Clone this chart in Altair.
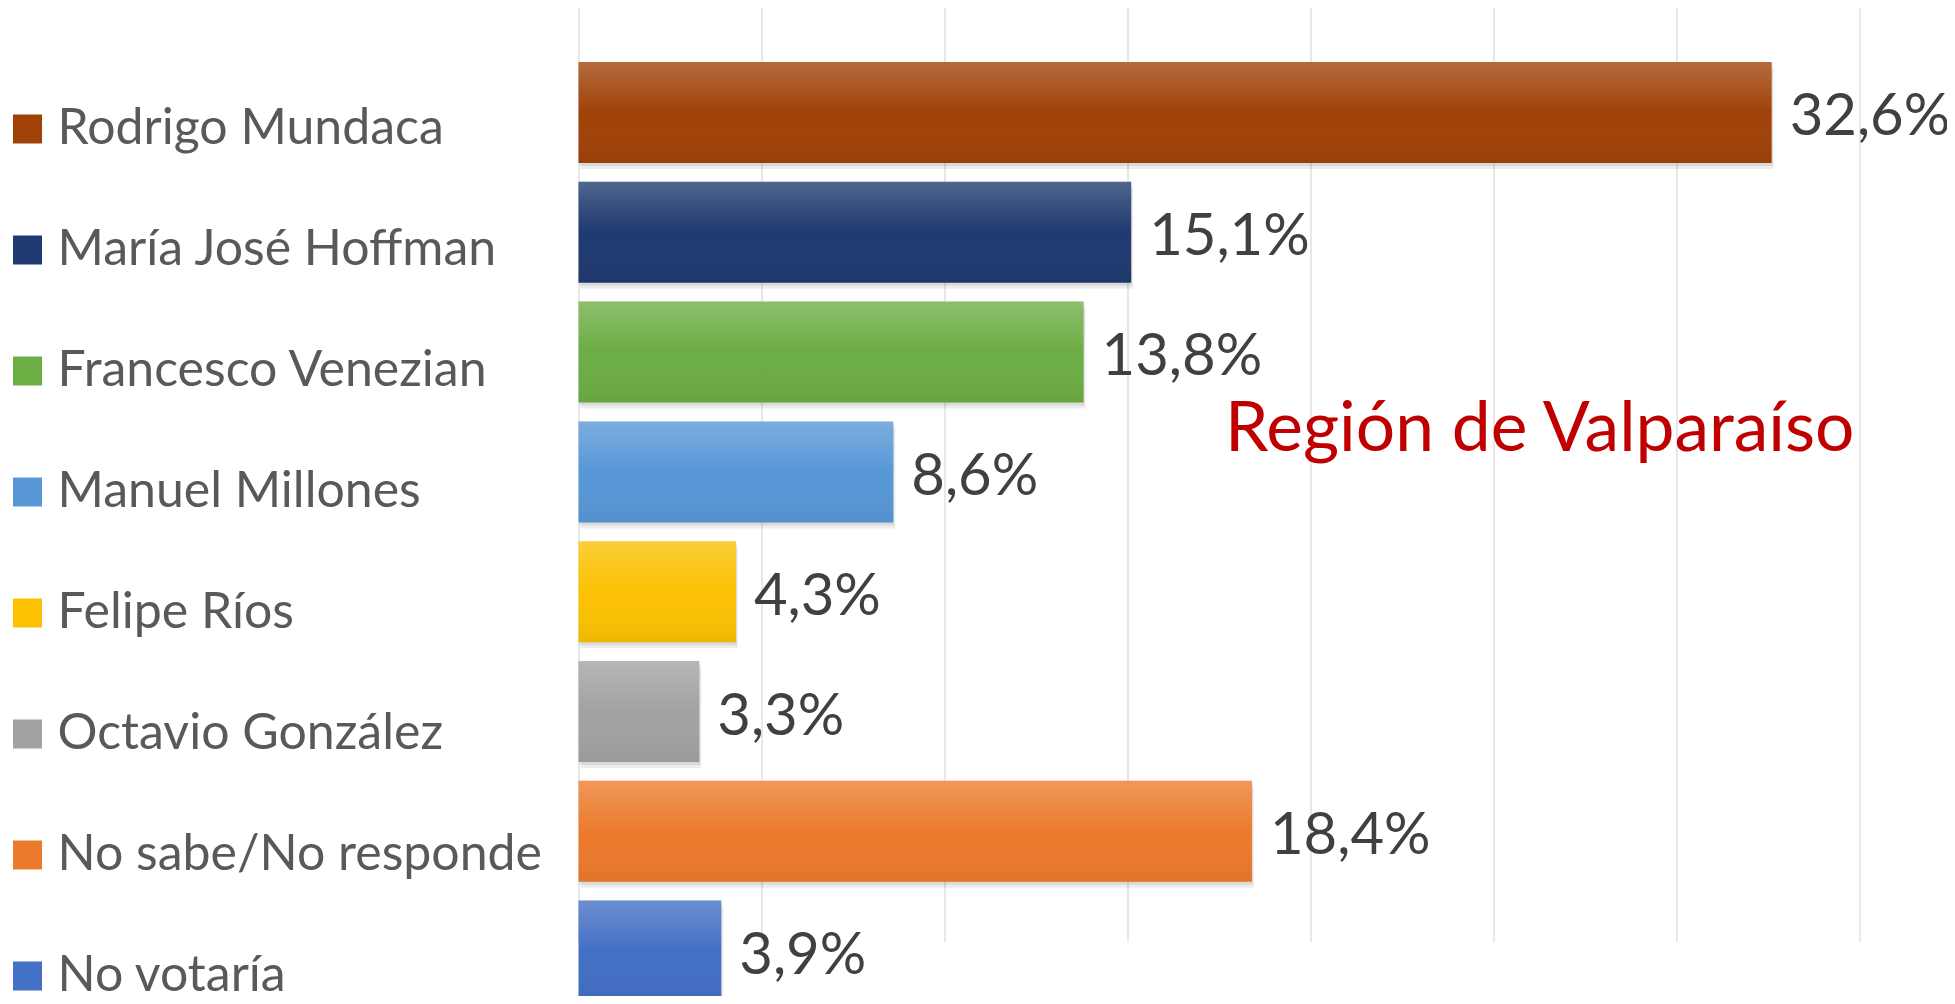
import altair as alt
import pandas as pd

names = ["Rodrigo Mundaca", "María José Hoffman", "Francesco Venezian", "Manuel Millones",
         "Felipe Ríos", "Octavio González", "No sabe/No responde", "No votaría"]
values = [32.6, 15.1, 13.8, 8.6, 4.3, 3.3, 18.4, 3.9]
colors = ["#A04208", "#1F3A70", "#6CAD44", "#5797D6", "#FBC102", "#A2A2A2", "#EC7A2C", "#436FC4"]
grid_values = [0, 5, 10, 15, 20, 25, 30, 35]
title_text = "Región de Valparaíso"

df = pd.DataFrame({"name": names, "value": values})
df["label"] = [f"{v:.1f}".replace(".", ",") + "%" for v in values]

FONT = "Lato"

y_enc = alt.Y("name:N", sort=names, axis=None,
              scale=alt.Scale(range=[54, 993.6], paddingInner=0.157, paddingOuter=0))
x_enc = alt.X("value:Q", title=None,
              scale=alt.Scale(domain=[0, 35], nice=False, zero=True),
              axis=alt.Axis(values=grid_values, labels=False, ticks=False, domain=False,
                            grid=True, gridColor="#D9D9D9", gridWidth=1.2))

base = alt.Chart(df).encode(y=y_enc, x=x_enc)

shadow1 = base.mark_bar(color="#000000", opacity=0.07, xOffset=2, yOffset=6)
shadow2 = base.mark_bar(color="#000000", opacity=0.08, xOffset=1, yOffset=3)

bars = base.mark_bar().encode(
    color=alt.Color("name:N", scale=alt.Scale(domain=names, range=colors),
                    legend=alt.Legend(title=None, orient="none", legendX=-576, legendY=96,
                                      symbolType="square", symbolSize=841, symbolStrokeWidth=0,
                                      labelFontSize=50, labelFont=FONT, labelColor="#595959",
                                      labelOffset=5, rowPadding=71, labelLimit=800, padding=0))
)

overlay = base.mark_bar(color={
    "gradient": "linear", "x1": 0, "y1": 0, "x2": 0, "y2": 1,
    "stops": [
        {"offset": 0, "color": "rgba(255,255,255,0.22)"},
        {"offset": 0.5, "color": "rgba(255,255,255,0)"},
        {"offset": 1, "color": "rgba(0,0,0,0.05)"},
    ],
})

labels = base.mark_text(align="left", baseline="middle", dx=18, dy=6, fontSize=58, font=FONT,
                        color="#404040").encode(text="label:N")

chart = alt.layer(shadow1, shadow2, bars, overlay, labels).properties(
    width=1281, height=988,
    title=alt.TitleParams(title_text, color="#C00000", fontSize=69.5, font=FONT,
                          fontWeight="normal", anchor="end", orient="top", frame="group",
                          baseline="alphabetic", offset=0, dx=-5, dy=512),
    autosize=alt.AutoSizeParams(type="none"),
    padding={"left": 570.5, "top": 0, "right": 87, "bottom": 0},
).configure_view(stroke=None)

chart.save("out.html", embed_options={"renderer": "svg", "actions": False})
